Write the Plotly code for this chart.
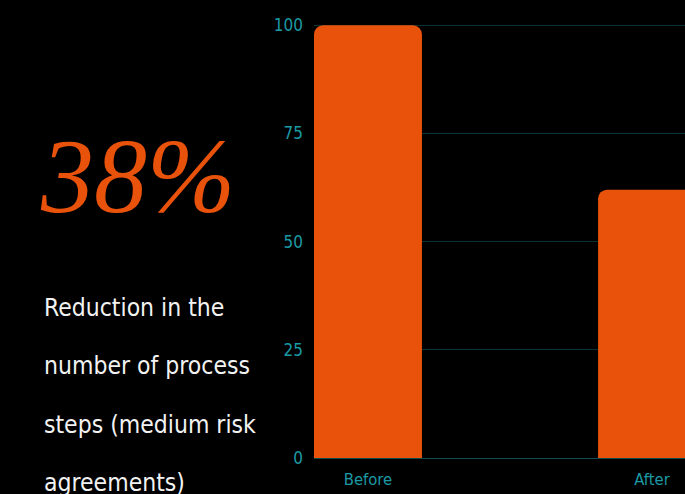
import plotly.graph_objects as go

categories = ["Before", "After"]
values = [100, 62]
y_ticks = [0, 25, 50, 75, 100]
headline = "38%"
body_lines = ["Reduction in the", "number of process", "steps (medium risk", "agreements)"]

W, H = 685, 494
L, R, T, B = 314, 0, 24, 36
pw, ph = W - L - R, H - T - B

def px_x(px):
    return (px - L) / pw

def px_y(py):
    return (H - B - py) / ph

orange = "#E8520A"
teal = "#1B9AA4"
grid = "#0A3236"
zero = "#0F4A50"
narrow = "DejaVu Sans Condensed, Liberation Sans Narrow, sans-serif"

fig = go.Figure(go.Bar(
    x=categories, y=values, width=0.38,
    marker=dict(color=orange, cornerradius=9, line=dict(width=0)),
    hoverinfo="skip",
))

annotations = [dict(
    text=headline, xref="paper", yref="paper", x=px_x(137), y=px_y(176),
    xanchor="center", yanchor="middle", showarrow=False,
    font=dict(family="Liberation Serif", size=106, color=orange, style="italic"),
)]
for i, line in enumerate(body_lines):
    annotations.append(dict(
        text=line, xref="paper", yref="paper", x=px_x(42), y=px_y(307 + 58.5 * i),
        xanchor="left", yanchor="middle", showarrow=False,
        font=dict(family=narrow, size=24.5, color="#F2F2F2"),
    ))

fig.update_layout(
    width=W, height=H,
    margin=dict(l=L, r=R, t=T, b=B, pad=0),
    paper_bgcolor="black", plot_bgcolor="black",
    showlegend=False,
    annotations=annotations,
    xaxis=dict(range=[-0.19, 1.116], showgrid=False, zeroline=False, showline=False,
               tickfont=dict(family=narrow, size=16.5, color=teal),
               ticks="", ticklabelstandoff=9),
    yaxis=dict(range=[0, 100.3], tickvals=y_ticks, showgrid=True, gridcolor=grid, gridwidth=1,
               zeroline=True, zerolinecolor=zero, zerolinewidth=1, showline=False,
               tickfont=dict(family=narrow, size=17, color=teal),
               ticks="", ticklabelstandoff=10),
)

fig.write_html(
    "out.html",
    config={"displayModeBar": False},
    post_script="document.body.style.margin='0';document.body.style.background='black';",
)
